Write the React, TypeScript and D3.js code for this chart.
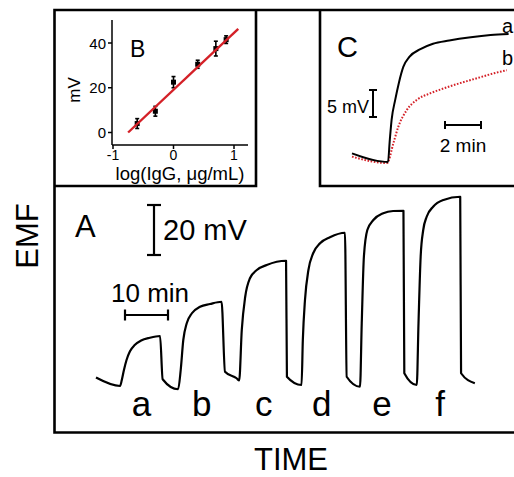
import * as d3 from 'd3';

// Panel A: potential-time trace (min, mV)
const traceTime = [0, 5.6, 6.0, 6.5, 7.1, 7.9, 9.0, 10.5, 12.5, 14.9, 15.5, 19.1, 19.7, 20.3, 21.1, 22.3, 24.2, 26.5, 29.2, 30.0, 32.7, 33.3, 33.9, 34.7, 35.8, 37.4, 39.7, 44.2, 44.4, 47.8, 48.1, 48.6, 49.4, 50.5, 52.1, 54.4, 57.9, 58.3, 61.4, 61.8, 62.3, 63.1, 64.5, 66.8, 69.1, 71.5, 71.7, 74.6, 75.0, 75.5, 76.1, 76.9, 78.4, 80.8, 84.7, 84.9, 88.1];
const traceEmf = [5, 1.6, 4, 8, 12, 15.5, 18, 19.8, 20.9, 21.6, 4.3, 0.3, 8, 20, 26.7, 30.7, 33.3, 34.4, 35.3, 7.3, 4.7, 3.8, 24, 37.3, 44.7, 48, 50, 51.7, 5.3, 2, 20, 36, 48, 54.7, 58.7, 61.1, 62.9, 5.3, 1.3, 26.7, 53.3, 64, 68, 70.7, 71.6, 71.7, 6.7, 2, 26.7, 53.3, 64, 69.3, 73.3, 76, 77.3, 6.7, 2.7];
const stepLabels = ['a', 'b', 'c', 'd', 'e', 'f'];
const stepLabelTime = [10.6, 24.6, 39.0, 52.5, 66.5, 80.0];

// Panel B: calibration
const logConc = [-0.6, -0.3, 0.0, 0.4, 0.7, 0.87];
const response = [4, 9.5, 22.5, 30.5, 37.5, 41.5];
const responseErr = [2.2, 2.2, 2.5, 1.8, 3.3, 1.7];
const fitX = [-0.75, 1.07];
const fitY = [0, 46.3];
const bTicksX = [-1, 0, 1];
const bTicksY = [0, 20, 40];

// Panel C: zoomed responses (min, mV)
const cTimeA = [0, 2.0, 2.1, 2.2, 2.4, 2.6, 2.85, 3.2, 3.8, 4.5, 5.4, 6.6, 7.7, 8.7];
const cEmfA = [1.6, 0, 4.1, 7.8, 11.5, 14.6, 17.6, 19.5, 20.9, 21.9, 22.5, 23.1, 23.5, 23.7];
const cTimeB = [0, 1.95, 2.3, 2.57, 3.04, 3.6, 4.33, 5.07, 6.0, 6.93, 7.85, 8.6];
const cEmfB = [1.0, -0.2, 3.5, 6.5, 9.6, 11.5, 12.7, 13.6, 14.6, 15.5, 16.4, 17.0];

const FONT = '"Liberation Sans", Arial, sans-serif';
const RED = '#d42027';

export default function App() {
  // scales
  const xA = d3.scaleLinear().domain([0, 10]).range([96, 139]);
  const yA = d3.scaleLinear().domain([0, 20]).range([390, 340]);
  const xB = d3.scaleLinear().domain([-1, 1]).range([113, 234]);
  const yB = d3.scaleLinear().domain([0, 40]).range([132.5, 43]);
  const xC = d3.scaleLinear().domain([0, 2]).range([352, 388]);
  const yC = d3.scaleLinear().domain([0, 5]).range([162, 135]);

  const lineA = d3
    .line<number>()
    .x((_, i) => xA(traceTime[i]))
    .y((d) => yA(d))
    .curve(d3.curveMonotoneX);

  const lineCA = d3
    .line<number>()
    .x((_, i) => xC(cTimeA[i]))
    .y((d) => yC(d))
    .curve(d3.curveMonotoneX);
  const lineCB = d3
    .line<number>()
    .x((_, i) => xC(cTimeB[i]))
    .y((d) => yC(d))
    .curve(d3.curveMonotoneX);

  const bar20 = yA(0) - yA(20);
  const bar10 = xA(10) - xA(0);
  const bar5 = yC(0) - yC(5);
  const bar2 = xC(2) - xC(0);

  const frame = 2.6;

  return (
    <svg
      width={514}
      height={477}
      style={{ position: 'absolute', left: 0, top: 0, background: '#fff' }}
      fontFamily={FONT}
    >
      {/* outer frame + insets */}
      <path
        d="M516,432.5 H54.5 V10 H516"
        fill="none"
        stroke="#000"
        strokeWidth={frame}
      />
      <path d="M54.5,186 H256 V10" fill="none" stroke="#000" strokeWidth={frame} />
      <path d="M516,186 H320 V10" fill="none" stroke="#000" strokeWidth={frame} />

      {/* axis titles */}
      <text
        transform="translate(38,236) rotate(-90)"
        textAnchor="middle"
        fontSize={31}
      >
        EMF
      </text>
      <text x={291} y={470} textAnchor="middle" fontSize={31}>
        TIME
      </text>

      {/* Panel A */}
      <text x={75} y={237} fontSize={31}>
        A
      </text>
      <g stroke="#000" strokeWidth={2.2} fill="none">
        <line x1={154} x2={154} y1={205} y2={205 + bar20} />
        <line x1={147} x2={161} y1={205} y2={205} />
        <line x1={147} x2={161} y1={205 + bar20} y2={205 + bar20} />
        <line x1={125} x2={125 + bar10} y1={315} y2={315} />
        <line x1={125} x2={125} y1={309.5} y2={320.5} />
        <line x1={125 + bar10} x2={125 + bar10} y1={309.5} y2={320.5} />
      </g>
      <text x={163} y={240} fontSize={29}>
        20 mV
      </text>
      <text x={111} y={302} fontSize={26}>
        10 min
      </text>
      <path
        d={lineA(traceEmf) ?? ''}
        fill="none"
        stroke="#000"
        strokeWidth={2.2}
        strokeLinejoin="round"
      />
      {stepLabels.map((s, i) => (
        <text
          key={s}
          x={xA(stepLabelTime[i])}
          y={416}
          textAnchor="middle"
          fontSize={35}
        >
          {s}
        </text>
      ))}

      {/* Panel B */}
      <g stroke="#000" strokeWidth={1.5}>
        <line x1={112} x2={112} y1={20} y2={145} />
        <line x1={112} x2={248} y1={145} y2={145} />
        {bTicksX.map((t) => (
          <line key={'tx' + t} x1={xB(t)} x2={xB(t)} y1={145} y2={149} />
        ))}
        {bTicksY.map((t) => (
          <line key={'ty' + t} x1={108} x2={112} y1={yB(t)} y2={yB(t)} />
        ))}
      </g>
      {bTicksX.map((t) => (
        <text key={'lx' + t} x={xB(t)} y={160} textAnchor="middle" fontSize={14}>
          {t < 0 ? '-' + Math.abs(t) : t}
        </text>
      ))}
      {bTicksY.map((t) => (
        <text key={'ly' + t} x={106} y={yB(t) + 5.5} textAnchor="end" fontSize={15}>
          {t}
        </text>
      ))}
      <text x={180} y={180} textAnchor="middle" fontSize={18.5}>
        log(IgG, μg/mL)
      </text>
      <text transform="translate(80,90) rotate(-90)" textAnchor="middle" fontSize={17}>
        mV
      </text>
      <text x={130} y={57} fontSize={23}>
        B
      </text>
      <g stroke="#000" strokeWidth={1.6}>
        {logConc.map((c, i) => (
          <g key={'e' + i}>
            <line
              x1={xB(c)}
              x2={xB(c)}
              y1={yB(response[i] - responseErr[i])}
              y2={yB(response[i] + responseErr[i])}
            />
            <line
              x1={xB(c) - 2}
              x2={xB(c) + 2}
              y1={yB(response[i] - responseErr[i])}
              y2={yB(response[i] - responseErr[i])}
            />
            <line
              x1={xB(c) - 2}
              x2={xB(c) + 2}
              y1={yB(response[i] + responseErr[i])}
              y2={yB(response[i] + responseErr[i])}
            />
          </g>
        ))}
      </g>
      {logConc.map((c, i) => (
        <rect
          key={'p' + i}
          x={xB(c) - 2.5}
          y={yB(response[i]) - 2.5}
          width={5}
          height={5}
          fill="#000"
        />
      ))}
      <line
        x1={xB(fitX[0])}
        y1={yB(fitY[0])}
        x2={xB(fitX[1])}
        y2={yB(fitY[1])}
        stroke={RED}
        strokeWidth={2.4}
      />

      {/* Panel C */}
      <text x={337} y={57} fontSize={29}>
        C
      </text>
      <path
        d={lineCB(cEmfB) ?? ''}
        fill="none"
        stroke={RED}
        strokeWidth={2}
        strokeDasharray="1.6 1.6"
      />
      <path d={lineCA(cEmfA) ?? ''} fill="none" stroke="#000" strokeWidth={2} />
      <text x={502} y={33} fontSize={20}>
        a
      </text>
      <text x={502} y={65} fontSize={20}>
        b
      </text>
      <g stroke="#000" strokeWidth={2}>
        <line x1={373} x2={373} y1={90} y2={90 + bar5} />
        <line x1={369} x2={377} y1={90} y2={90} />
        <line x1={369} x2={377} y1={90 + bar5} y2={90 + bar5} />
        <line x1={445} x2={445 + bar2} y1={125} y2={125} />
        <line x1={445} x2={445} y1={121} y2={129} />
        <line x1={445 + bar2} x2={445 + bar2} y1={121} y2={129} />
      </g>
      <text x={369} y={113} textAnchor="end" fontSize={18}>
        5 mV
      </text>
      <text x={463} y={152} textAnchor="middle" fontSize={19}>
        2 min
      </text>
    </svg>
  );
}
